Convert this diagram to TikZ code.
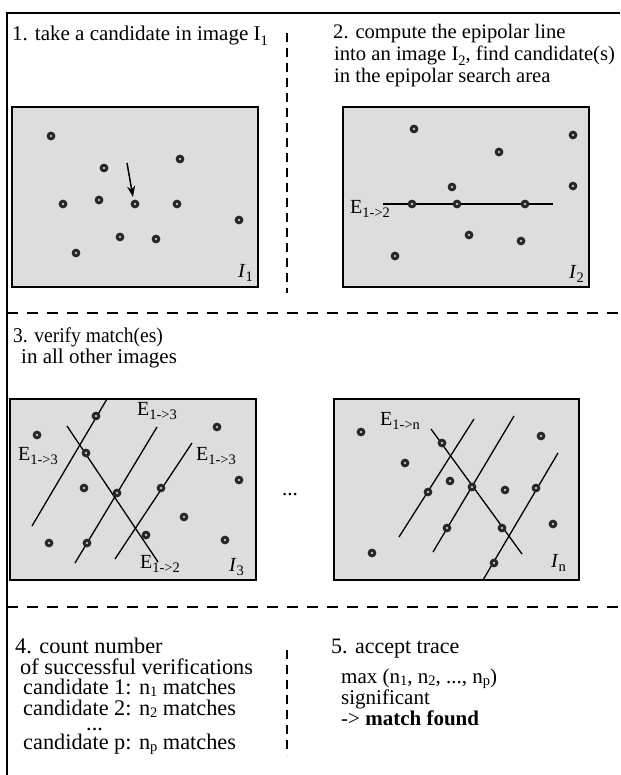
\documentclass[tikz,border=0pt]{standalone}
\usepackage{fontspec}
\setmainfont{Liberation Serif}
\usetikzlibrary{arrows.meta}
\newcommand\lowsub[1]{\raisebox{-0.2em}{\fontsize{14.5}{15}\selectfont #1}}
\newcommand\lowsubb[1]{\raisebox{-0.12em}{\fontsize{14.5}{15}\selectfont #1}}
\begin{document}
\begin{tikzpicture}[x=1pt,y=-1pt,
  txt/.style={anchor=base west,inner sep=0pt,font=\fontsize{21}{24}\selectfont},
  txtb/.style={anchor=base west,inner sep=0pt,font=\fontsize{22.3}{24}\selectfont},
  lbl/.style={anchor=base west,inner sep=0pt,font=\fontsize{20}{24}\selectfont},
  frame/.style={line width=1.4pt},
  hsep/.style={line width=1.7pt,dash pattern=on 11pt off 9pt},
  vsep/.style={line width=1.7pt,dash pattern=on 9pt off 6pt},
  img/.style={draw=black,line width=1.3pt,fill=gray!27},
  epi/.style={line width=1.3pt},
  spot/.pic={\fill[black!85] (0,0) circle (4.4); \fill[gray!45] (0,0) circle (1.4);}
]
\useasboundingbox (0,0) rectangle (620,775);
\fill[white] (0,0) rectangle (620,775);

% frame and separators
\draw[frame] (7,775) -- (7,13) -- (620,13);
\draw[vsep] (287,33) -- (287,293);
\draw[hsep] (7,313) -- (620,313);
\draw[hsep] (7,607) -- (620,607);
\draw[vsep] (287,650) -- (287,755);

% ---------- step 1 ----------
\node[txt] (t1) at (12,41) {1. take a candidate in image I\lowsub{1}};
\draw[img] (12,107) rectangle (258,287);
\foreach \p in {(51,136),(104,168),(180,159),(63,204),(99,200),(135,204),(177,204),(239,220),(120,237),(156,239),(76,253)}
  \pic at \p {spot};
\draw[line width=1.5pt,-{Stealth[length=11pt,width=8pt]}] (127,163) -- (133,197);
\node[lbl] (i1) at (238,277) {\textit{I}\lowsub{1}};

% ---------- step 2 ----------
\node[txt,font=\fontsize{20.6}{24}\selectfont] (t2a) at (333,39) {2. compute the epipolar line};
\node[txt,font=\fontsize{20.6}{24}\selectfont] (t2b) at (334,61) {into an image I\lowsub{2}, find candidate(s)};
\node[txt,font=\fontsize{20.6}{24}\selectfont] (t2c) at (334,83) {in the epipolar search area};
\draw[img] (343,107) rectangle (589,287);
\draw[epi] (383,204) -- (553,204);
\foreach \p in {(414,129),(573,135),(499,152),(452,187),(573,186),(412,204),(457,204),(525,204),(469,235),(521,241),(395,256)}
  \pic at \p {spot};
\node[lbl] (e12a) at (350,214) {E\lowsub{1->2}};
\node[lbl] (i2) at (569,279) {\textit{I}\lowsub{2}};

% ---------- step 3 ----------
\node[txt] (t3a) at (13,342) {\scalebox{0.93}[1]{3. verify match(es)}};
\node[txt] (t3b) at (21,363) {in all other images};

\draw[img] (10,399) rectangle (256,580);
\draw[epi] (32,526) -- (107,399);
\draw[epi] (75,563) -- (157,427);
\draw[epi] (115,559) -- (192,443);
\draw[epi] (67,426) -- (158,562);
\foreach \p in {(96,416),(37,435),(217,427),(86,453),(239,480),(84,488),(117,493),(161,488),(184,517),(49,543),(87,543),(146,535),(225,540)}
  \pic at \p {spot};
\node[lbl] (e13t) at (137,415) {E\lowsub{1->3}};
\node[lbl] (e13l) at (18,460) {E\lowsub{1->3}};
\node[lbl] (e13r) at (196,460) {E\lowsub{1->3}};
\node[lbl] (e12b) at (140,568) {E\lowsub{1->2}};
\node[lbl] (i3) at (229,571) {\textit{I}\lowsub{3}};

\node[txt] (dots) at (282,495) {...};

\draw[img] (334,399) rectangle (579,580);
\draw[epi] (399,537) -- (474,419);
\draw[epi] (433,552) -- (514,416);
\draw[epi] (483,580) -- (558,453);
\draw[epi] (431,429) -- (522,554);
\foreach \p in {(361,432),(541,436),(442,443),(405,463),(450,481),(472,487),(505,490),(536,488),(428,492),(553,524),(447,528),(502,528),(372,553),(494,563)}
  \pic at \p {spot};
\node[lbl] (e1n) at (380,425) {E\lowsub{1->n}};
\node[lbl] (in) at (551,567) {\textit{I}\lowsub{n}};

% ---------- step 4 ----------
\node[txtb] (t4a) at (15,653) {4. count number};
\node[txtb] (t4b) at (20,674) {of successful verifications};
\node[txtb] (t4c) at (23,694) {candidate 1: n\lowsubb{1} matches};
\node[txtb] (t4d) at (23,715) {candidate 2: n\lowsubb{2} matches};
\node[txtb] (t4e) at (86,730) {...};
\node[txtb] (t4f) at (23,749) {candidate p: n\lowsubb{p} matches};

% ---------- step 5 ----------
\node[txt,font=\fontsize{22}{24}\selectfont] (t5a) at (331,653) {5. accept trace};
\node[txt] (t5b) at (341,683) {max (n\lowsubb{1}, n\lowsubb{2}, ..., n\lowsubb{p})};
\node[txt] (t5c) at (341,704) {significant};
\node[txt] (t5d) at (341,725) {-> \textbf{match found}};
\end{tikzpicture}
\end{document}
